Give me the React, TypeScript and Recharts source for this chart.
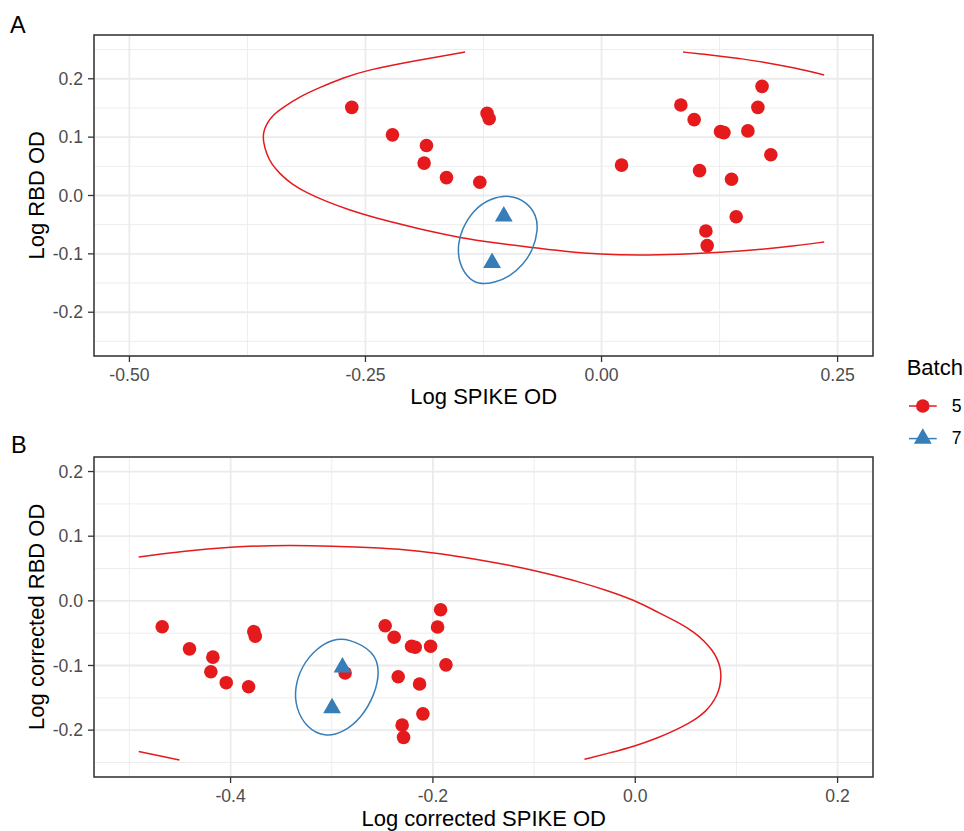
import { ScatterChart, Scatter, XAxis, YAxis, CartesianGrid, ReferenceArea } from 'recharts';

const RED = '#E41A1C';
const BLUE = '#377EB8';
const FONT = '"Liberation Sans", Arial, sans-serif';

type Pair = [number, number];

// ---- panel A: raw log ODs ----
const aBatch5: Pair[] = [
  [-0.2645, 0.151], [-0.1212, 0.1407], [-0.119, 0.1317], [-0.2214, 0.1039],
  [-0.1854, 0.0857], [-0.1879, 0.0555], [-0.1642, 0.0307], [-0.1289, 0.0227],
  [0.0212, 0.0521], [0.084, 0.155], [0.0981, 0.13], [0.126, 0.1095],
  [0.1296, 0.1078], [0.155, 0.1107], [0.1656, 0.151], [0.17, 0.187],
  [0.1793, 0.0698], [0.1038, 0.0426], [0.1377, 0.0278], [0.1426, -0.0364],
  [0.1105, -0.0608], [0.1119, -0.0858],
];
const aBatch7: Pair[] = [[-0.1035, -0.0358], [-0.1159, -0.1153]];

// ellipse 5 is cut by the axis limits, so it comes in two pieces
const aEllipse5Main: Pair[] = [
  [-0.1445, 0.2458], [-0.1967, 0.2313], [-0.2489, 0.2147], [-0.2741, 0.2015],
  [-0.2984, 0.185], [-0.3196, 0.1695], [-0.3373, 0.1509], [-0.3477, 0.1385],
  [-0.3549, 0.1227], [-0.3583, 0.1078], [-0.3583, 0.0925], [-0.3549, 0.0716],
  [-0.3493, 0.0533], [-0.3408, 0.0375], [-0.3281, 0.0193], [-0.3125, 0.0048],
  [-0.2899, -0.0114], [-0.2666, -0.0251], [-0.2422, -0.037], [-0.2168, -0.0477],
  [-0.184, -0.0608], [-0.1501, -0.0722], [-0.113, -0.0813], [-0.076, -0.0889],
  [-0.0388, -0.0957], [-0.0018, -0.1009], [0.0406, -0.1026], [0.0829, -0.1009],
  [0.1253, -0.0978], [0.1709, -0.092], [0.2048, -0.0864], [0.2358, -0.0796],
];
const aEllipse5Top: Pair[] = [
  [0.0864, 0.2458], [0.1062, 0.2424], [0.1253, 0.239], [0.1486, 0.2342],
  [0.1712, 0.2288], [0.2048, 0.2186], [0.2358, 0.2066],
];
const aEllipse7: Pair[] = [
  [-0.0971, 0.0017], [-0.0794, -0.0109], [-0.0689, -0.0336], [-0.0672, -0.0591],
  [-0.0725, -0.0932], [-0.0831, -0.1187], [-0.0971, -0.1387], [-0.113, -0.1494],
  [-0.131, -0.1528], [-0.143, -0.1392], [-0.1512, -0.1136], [-0.1522, -0.0847],
  [-0.1483, -0.0591], [-0.136, -0.025], [-0.1183, -0.0051],
];

const aTicksX = [-0.5, -0.25, 0, 0.25];
const aTicksY = [-0.2, -0.1, 0, 0.1, 0.2];
const aMinorX = [-0.375, -0.125, 0.125];
const aMinorY = [-0.25, -0.15, -0.05, 0.05, 0.15, 0.25];

// ---- panel B: corrected log ODs ----
const bBatch5: Pair[] = [
  [-0.4676, -0.04], [-0.4406, -0.0743], [-0.4175, -0.0871], [-0.4195, -0.1097],
  [-0.4043, -0.1266], [-0.3822, -0.1328], [-0.377, -0.0477], [-0.3756, -0.0548],
  [-0.2868, -0.1117], [-0.2472, -0.0385], [-0.2383, -0.0563], [-0.2211, -0.0702],
  [-0.2175, -0.0717], [-0.2023, -0.0702], [-0.1954, -0.0405], [-0.1924, -0.0138],
  [-0.1871, -0.099], [-0.2343, -0.1174], [-0.2132, -0.1286], [-0.2099, -0.1748],
  [-0.2304, -0.1923], [-0.229, -0.2112],
];
const bBatch7: Pair[] = [[-0.2894, -0.103], [-0.2997, -0.166]];

const bEllipse5Main: Pair[] = [
  [-0.4908, 0.0677], [-0.4455, 0.0772], [-0.3977, 0.0834], [-0.3614, 0.0857],
  [-0.3218, 0.0857], [-0.2772, 0.0837], [-0.2327, 0.0803], [-0.1931, 0.0734],
  [-0.1535, 0.0634], [-0.1238, 0.0549], [-0.1007, 0.0472], [-0.0762, 0.038],
  [-0.0545, 0.0288], [-0.0267, 0.0157], [0.0, 0.0003], [0.0181, -0.0143],
  [0.0446, -0.0348], [0.0584, -0.0489], [0.0688, -0.0628], [0.0762, -0.0766],
  [0.0812, -0.0897], [0.084, -0.1028], [0.085, -0.1174], [0.0837, -0.1328],
  [0.0807, -0.1466], [0.0757, -0.1597], [0.0693, -0.1712], [0.0614, -0.1812],
  [0.0525, -0.1897], [0.0379, -0.2015], [0.0198, -0.2135], [0.0, -0.2246],
  [-0.0248, -0.2351], [-0.0502, -0.2451],
];
const bEllipse5Tail: Pair[] = [[-0.4908, -0.2332], [-0.4505, -0.2462]];
const bEllipse7: Pair[] = [
  [-0.2839, -0.0578], [-0.2574, -0.0785], [-0.2525, -0.1092], [-0.2574, -0.1451],
  [-0.2706, -0.1809], [-0.2888, -0.204], [-0.3069, -0.2108], [-0.325, -0.1963],
  [-0.3356, -0.1655], [-0.3366, -0.1348], [-0.33, -0.1015], [-0.3151, -0.0732],
  [-0.2987, -0.0594],
];

const bTicksX = [-0.4, -0.2, 0, 0.2];
const bTicksY = [-0.2, -0.1, 0, 0.1, 0.2];
const bMinorX = [-0.5, -0.3, -0.1, 0.1];
const bMinorY = [-0.25, -0.15, -0.05, 0.05, 0.15];

const toPts = (arr: Pair[]) => arr.map(([x, y]) => ({ x, y }));

const Dot = (p: any) => <circle cx={p.cx} cy={p.cy} r={6.8} fill={RED} />;
const Tri = (p: any) => (
  <polygon
    points={`${p.cx},${p.cy - 10.3} ${p.cx + 8.9},${p.cy + 5.15} ${p.cx - 8.9},${p.cy + 5.15}`}
    fill={BLUE}
  />
);
const NoDot = () => <g />;

const tickStyle = { fontSize: 17.6, fill: '#4D4D4D', fontFamily: FONT };

interface PanelProps {
  height: number;
  top: number;
  xDomain: [number, number];
  yDomain: [number, number];
  xTicks: number[];
  yTicks: number[];
  minorX: number[];
  minorY: number[];
  xDigits: number;
  pts5: Pair[];
  pts7: Pair[];
  ell5: Pair[][];
  ell7: Pair[];
}

function Panel(p: PanelProps) {
  return (
    <ScatterChart width={964} height={p.height} margin={{ top: p.top, right: 91, bottom: 0, left: 0 }}>
      <CartesianGrid stroke="#EBEBEB" strokeWidth={0.9} verticalValues={p.minorX} horizontalValues={p.minorY} />
      <CartesianGrid stroke="#EBEBEB" strokeWidth={1.8} />
      <XAxis
        type="number" dataKey="x" domain={p.xDomain} ticks={p.xTicks} allowDataOverflow interval={0}
        height={54} axisLine={false} tickLine={{ stroke: '#333', strokeWidth: 1.3 }} tickSize={6} tickMargin={7}
        tick={tickStyle} tickFormatter={(v: number) => v.toFixed(p.xDigits)}
      />
      <YAxis
        type="number" dataKey="y" domain={p.yDomain} ticks={p.yTicks} allowDataOverflow interval={0}
        width={94} axisLine={false} tickLine={{ stroke: '#333', strokeWidth: 1.3 }} tickSize={6} tickMargin={5}
        tick={tickStyle} tickFormatter={(v: number) => v.toFixed(1)}
      />
      <Scatter data={toPts(p.pts5)} shape={Dot} isAnimationActive={false} />
      <Scatter data={toPts(p.pts7)} shape={Tri} isAnimationActive={false} />
      {p.ell5.map((seg, i) => (
        <Scatter
          key={i} data={toPts(seg)} shape={NoDot} fill={RED} isAnimationActive={false}
          line={{ stroke: RED, strokeWidth: 1.5 }} lineJointType="basis"
        />
      ))}
      <Scatter
        data={toPts(p.ell7)} shape={NoDot} fill={BLUE} isAnimationActive={false}
        line={{ stroke: BLUE, strokeWidth: 1.5 }} lineJointType="basisClosed"
      />
      <ReferenceArea
        x1={p.xDomain[0]} x2={p.xDomain[1]} y1={p.yDomain[0]} y2={p.yDomain[1]}
        fill="none" stroke="#333" strokeWidth={1.5} ifOverflow="visible"
      />
    </ScatterChart>
  );
}

export default function App() {
  return (
    <div style={{ position: 'absolute', left: 0, top: 0, width: 964, height: 831, background: '#fff' }}>
      <div style={{ position: 'absolute', left: 0, top: 0 }}>
        <Panel
          height={410} top={35}
          xDomain={[-0.5375, 0.2875]} yDomain={[-0.275, 0.275]}
          xTicks={aTicksX} yTicks={aTicksY} minorX={aMinorX} minorY={aMinorY} xDigits={2}
          pts5={aBatch5} pts7={aBatch7} ell5={[aEllipse5Main, aEllipse5Top]} ell7={aEllipse7}
        />
      </div>
      <div style={{ position: 'absolute', left: 0, top: 420 }}>
        <Panel
          height={411} top={37}
          xDomain={[-0.535, 0.235]} yDomain={[-0.2725, 0.2225]}
          xTicks={bTicksX} yTicks={bTicksY} minorX={bMinorX} minorY={bMinorY} xDigits={1}
          pts5={bBatch5} pts7={bBatch7} ell5={[bEllipse5Main, bEllipse5Tail]} ell7={bEllipse7}
        />
      </div>
      <svg
        width={964} height={831}
        style={{ position: 'absolute', left: 0, top: 0, pointerEvents: 'none' }}
        fontFamily={FONT}
      >
        <text x={10} y={32.7} fontSize={23.5} fill="#000">A</text>
        <text x={11} y={453.3} fontSize={23.5} fill="#000">B</text>

        <text x={483.7} y={404} fontSize={22} textAnchor="middle" fill="#000">Log SPIKE OD</text>
        <text x={483.7} y={826} fontSize={22} textAnchor="middle" fill="#000">Log corrected SPIKE OD</text>
        <text transform="translate(44.3,195.3) rotate(-90)" fontSize={22} textAnchor="middle" fill="#000">Log RBD OD</text>
        <text transform="translate(44.3,616.8) rotate(-90)" fontSize={22} textAnchor="middle" fill="#000">Log corrected RBD OD</text>

        <text x={906.7} y={375} fontSize={22} fill="#000">Batch</text>
        <line x1={909} x2={936.7} y1={406} y2={406} stroke={RED} strokeWidth={1.5} />
        <circle cx={922.8} cy={406} r={6.8} fill={RED} />
        <text x={951.7} y={412.3} fontSize={17.6} fill="#000">5</text>
        <line x1={909} x2={936.7} y1={438.6} y2={438.6} stroke={BLUE} strokeWidth={1.5} />
        <polygon points="922.8,428.3 931.7,443.75 913.9,443.75" fill={BLUE} />
        <text x={951.7} y={444.3} fontSize={17.6} fill="#000">7</text>
      </svg>
    </div>
  );
}
